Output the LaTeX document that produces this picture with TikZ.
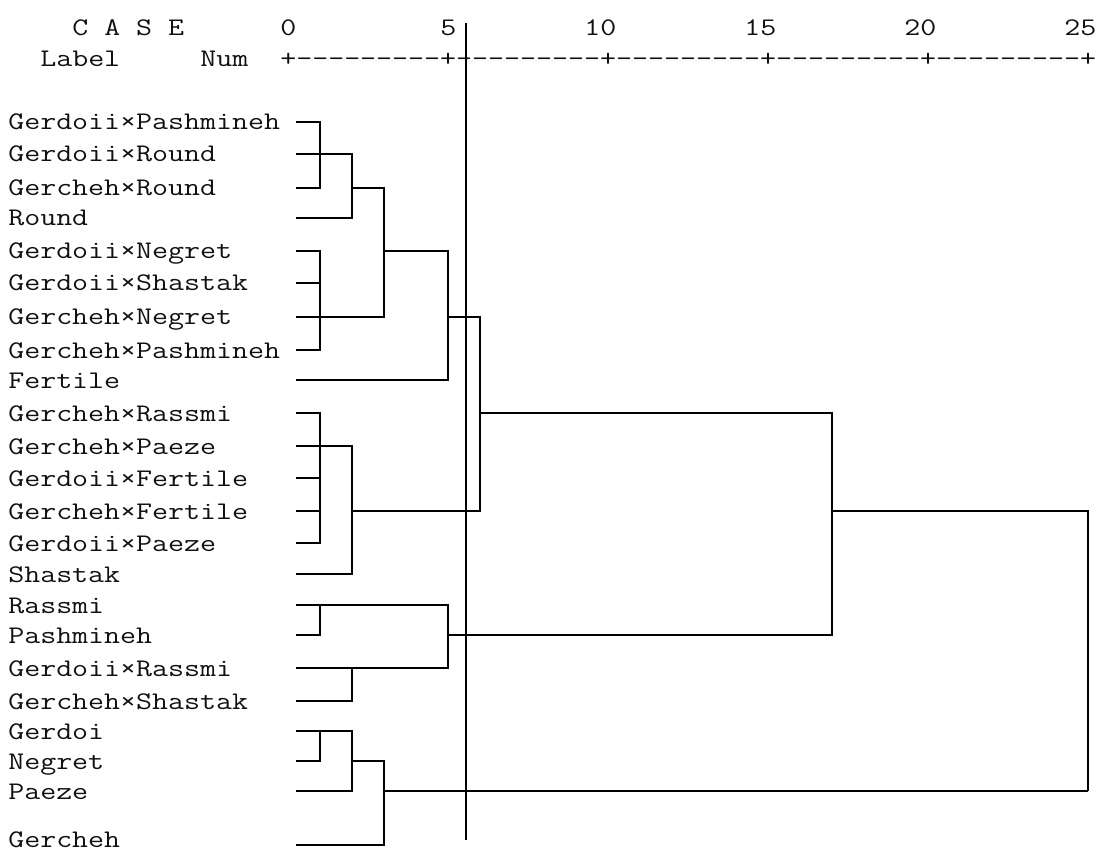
\documentclass[tikz,border=0pt]{standalone}
\usepackage{fontspec}
\setmonofont{Latin Modern Mono}[FakeStretch=1.226]
\definecolor{textcolor}{HTML}{111111}
\definecolor{treecolor}{HTML}{000000}
\tikzset{
  lbl/.style={anchor=base west, inner sep=0pt, font=\ttfamily\fontsize{19}{22}\selectfont, text=textcolor},
  leaf/.style={lbl},
  tree/.style={draw=treecolor, line width=1.1pt},
  cut/.style={draw=treecolor, line width=1.3pt},
}

\begin{document}
\begin{tikzpicture}[x=0.75pt,y=-0.75pt]
  \useasboundingbox (0,0) rectangle (1099,852);

  % header and rescaled distance axis
  \node[lbl] (case) at (72,36) {C A S E};
  \node[lbl] (label) at (40,67) {Label};
  \node[lbl] (num) at (200,67) {Num};
  \node[lbl] (axis) at (280,67) {+---------+---------+---------+---------+---------+};
  \node[lbl] (s0) at (280,36) {0};
  \node[lbl] (s5) at (440,36) {5};
  \node[lbl] (s10) at (584,36) {10};
  \node[lbl] (s15) at (744,36) {15};
  \node[lbl] (s20) at (904,36) {20};
  \node[lbl] (s25) at (1064,36) {25};

  % case labels
  \node[leaf] (n1) at (8,130) {Gerdoii×Pashmineh};
  \node[leaf] (n2) at (8,162) {Gerdoii×Round};
  \node[leaf] (n3) at (8,196) {Gercheh×Round};
  \node[leaf] (n4) at (8,226) {Round};
  \node[leaf] (n5) at (8,259) {Gerdoii×Negret};
  \node[leaf] (n6) at (8,291) {Gerdoii×Shastak};
  \node[leaf] (n7) at (8,325) {Gercheh×Negret};
  \node[leaf] (n8) at (8,358) {Gercheh×Pashmineh};
  \node[leaf] (n9) at (8,388) {Fertile};
  \node[leaf] (n10) at (8,421) {Gercheh×Rassmi};
  \node[leaf] (n11) at (8,454) {Gercheh×Paeze};
  \node[leaf] (n12) at (8,486) {Gerdoii×Fertile};
  \node[leaf] (n13) at (8,519) {Gercheh×Fertile};
  \node[leaf] (n14) at (8,551) {Gerdoii×Paeze};
  \node[leaf] (n15) at (8,582) {Shastak};
  \node[leaf] (n16) at (8,613) {Rassmi};
  \node[leaf] (n17) at (8,643) {Pashmineh};
  \node[leaf] (n18) at (8,676) {Gerdoii×Rassmi};
  \node[leaf] (n19) at (8,709) {Gercheh×Shastak};
  \node[leaf] (n20) at (8,739) {Gerdoi};
  \node[leaf] (n21) at (8,769) {Negret};
  \node[leaf] (n22) at (8,799) {Paeze};
  \node[leaf] (n23) at (8,847) {Gercheh};

  % leaf ends
  \coordinate (l1) at (296,122);
  \coordinate (l2) at (296,154);
  \coordinate (l3) at (296,188);
  \coordinate (l4) at (296,218);
  \coordinate (l5) at (296,251);
  \coordinate (l6) at (296,283);
  \coordinate (l7) at (296,317);
  \coordinate (l8) at (296,350);
  \coordinate (l9) at (296,380);
  \coordinate (l10) at (296,413);
  \coordinate (l11) at (296,446);
  \coordinate (l12) at (296,478);
  \coordinate (l13) at (296,511);
  \coordinate (l14) at (296,543);
  \coordinate (l15) at (296,574);
  \coordinate (l16) at (296,605);
  \coordinate (l17) at (296,635);
  \coordinate (l18) at (296,668);
  \coordinate (l19) at (296,701);
  \coordinate (l20) at (296,731);
  \coordinate (l21) at (296,761);
  \coordinate (l22) at (296,791);
  \coordinate (l23) at (296,845);

  % cluster joins
  \coordinate (c1) at (320,154);
  \coordinate (c2) at (352,188);
  \coordinate (c3) at (320,317);
  \coordinate (c4) at (384,251);
  \coordinate (c5) at (448,317);
  \coordinate (c6) at (320,446);
  \coordinate (c7) at (352,511);
  \coordinate (c8) at (480,413);
  \coordinate (c9) at (320,605);
  \coordinate (c10) at (352,668);
  \coordinate (c11) at (448,635);
  \coordinate (c12) at (832,511);
  \coordinate (c13) at (320,731);
  \coordinate (c14) at (352,761);
  \coordinate (c15) at (384,791);
  \coordinate (c16) at (1088,791);

  \draw[tree] (l1) -| (c1);
  \draw[tree] (l2) -| (c1);
  \draw[tree] (l3) -| (c1);
  \draw[tree] (c1) -| (c2);
  \draw[tree] (l4) -| (c2);

  \draw[tree] (l5) -| (c3);
  \draw[tree] (l6) -| (c3);
  \draw[tree] (l7) -| (c3);
  \draw[tree] (l8) -| (c3);
  \draw[tree] (c2) -| (c4);
  \draw[tree] (c3) -| (c4);
  \draw[tree] (c4) -| (c5);
  \draw[tree] (l9) -| (c5);

  \draw[tree] (l10) -| (c6);
  \draw[tree] (l11) -| (c6);
  \draw[tree] (l12) -| (c6);
  \draw[tree] (l13) -| (c6);
  \draw[tree] (l14) -| (c6);
  \draw[tree] (c6) -| (c7);
  \draw[tree] (l15) -| (c7);
  \draw[tree] (c5) -| (c8);
  \draw[tree] (c7) -| (c8);

  \draw[tree] (l16) -| (c9);
  \draw[tree] (l17) -| (c9);
  \draw[tree] (l18) -| (c10);
  \draw[tree] (l19) -| (c10);
  \draw[tree] (c9) -| (c11);
  \draw[tree] (c10) -| (c11);
  \draw[tree] (c8) -| (c12);
  \draw[tree] (c11) -| (c12);

  \draw[tree] (l20) -| (c13);
  \draw[tree] (l21) -| (c13);
  \draw[tree] (c13) -| (c14);
  \draw[tree] (l22) -| (c14);
  \draw[tree] (c14) -| (c15);
  \draw[tree] (l23) -| (c15);

  \draw[tree] (c12) -| (c16);
  \draw[tree] (c15) -| (c16);

  % cut level
  \coordinate (cuttop) at (466,23);
  \coordinate (cutbot) at (466,840);
  \draw[cut] (cuttop) -- (cutbot);
\end{tikzpicture}
\end{document}
